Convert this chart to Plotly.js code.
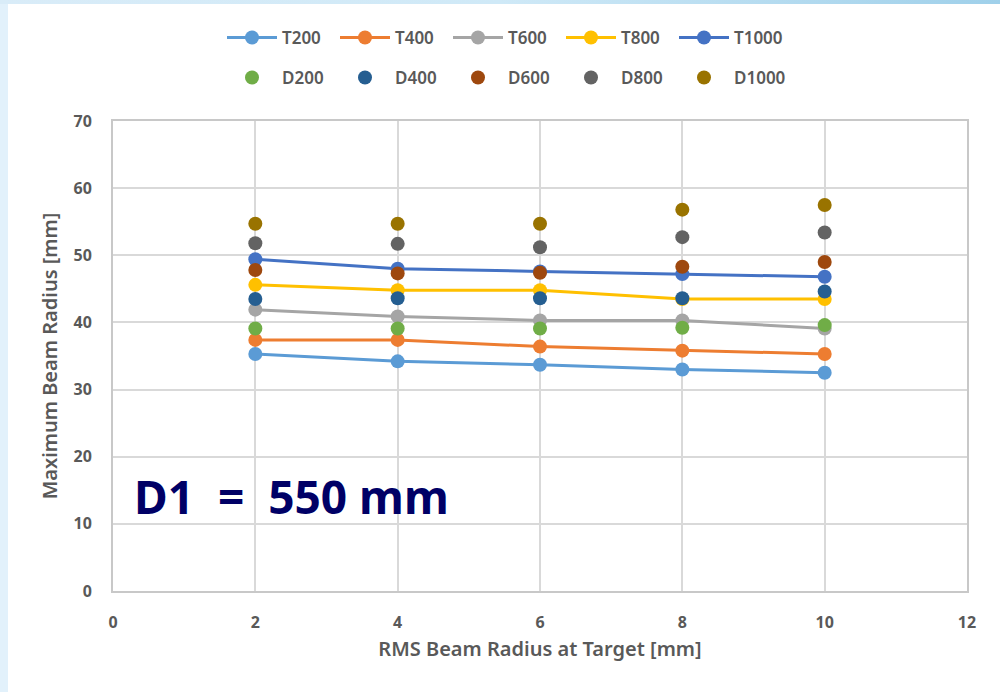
<!DOCTYPE html>
<html>
<head>
<meta charset="utf-8">
<script src="https://cdn.plot.ly/plotly-3.0.1.min.js"></script>
<style>
  html, body { margin: 0; padding: 0; width: 1000px; height: 692px; overflow: hidden; }
  #bg { position: absolute; left: 0; top: 0; width: 1000px; height: 692px;
        background: linear-gradient(90deg, #d9ecf8 0%, #cfe9f7 50%, #9fd0ea 100%); }
  #bgleft { position: absolute; left: 0; top: 4px; width: 8px; height: 688px; background: #e2f1fb; }
  #white { position: absolute; left: 8px; top: 4px; width: 992px; height: 688px; background: #ffffff; }
  #chart { position: absolute; left: 0; top: 0; width: 1000px; height: 692px; }
</style>
</head>
<body>
<div id="bg"></div>
<div id="bgleft"></div>
<div id="white"></div>
<div id="chart"></div>
<script>
// ---- data ----
const xValues = [2, 4, 6, 8, 10];

const T200  = [35.3, 34.2, 33.7, 33.0, 32.5];
const T400  = [37.4, 37.4, 36.4, 35.8, 35.3];
const T600  = [41.9, 40.9, 40.3, 40.3, 39.1];
const T800  = [45.6, 44.8, 44.8, 43.5, 43.5];
const T1000 = [49.4, 48.0, 47.6, 47.2, 46.8];

const D200  = [39.1, 39.1, 39.1, 39.2, 39.6];
const D400  = [43.5, 43.6, 43.6, 43.6, 44.6];
const D600  = [47.8, 47.3, 47.4, 48.3, 49.0];
const D800  = [51.8, 51.7, 51.2, 52.7, 53.4];
const D1000 = [54.7, 54.7, 54.7, 56.8, 57.5];

const tNames  = ['T200', 'T400', 'T600', 'T800', 'T1000'];
const tSeries = [T200, T400, T600, T800, T1000];
const tColors = ['#5b9bd5', '#ed7d31', '#a5a5a5', '#ffc000', '#4472c4'];

const dNames  = ['D200', 'D400', 'D600', 'D800', 'D1000'];
const dSeries = [D200, D400, D600, D800, D1000];
const dColors = ['#70ad47', '#255e91', '#9e480e', '#636363', '#997300'];

const xTicks = [0, 2, 4, 6, 8, 10, 12];
const yTicks = [0, 10, 20, 30, 40, 50, 60, 70];

// ---- traces ----
const traces = [];
tNames.forEach((n, i) => {
  traces.push({
    x: xValues, y: tSeries[i], name: n, type: 'scatter', mode: 'lines+markers',
    line: { color: tColors[i], width: 3 },
    marker: { color: tColors[i], size: 14 },
    legend: 'legend'
  });
});
dNames.forEach((n, i) => {
  traces.push({
    x: xValues, y: dSeries[i], name: n, type: 'scatter', mode: 'markers',
    marker: { color: dColors[i], size: 14 },
    legend: 'legend2'
  });
});

const tickFont = { family: 'Noto Sans, DejaVu Sans, sans-serif', size: 16, color: '#595959', weight: 'bold' };
const legendFont = { family: 'Noto Sans, DejaVu Sans, sans-serif', size: 17, color: '#595959', weight: 600 };
const titleFont = { family: 'Noto Sans, DejaVu Sans, sans-serif', size: 20, color: '#595959', weight: 600 };

const legendCommon = {
  orientation: 'h', xref: 'container', yref: 'container',
  xanchor: 'left', yanchor: 'middle',
  font: legendFont, bgcolor: 'rgba(0,0,0,0)',
  itemwidth: 50, entrywidth: 48, entrywidthmode: 'pixels',
  tracegroupgap: 0, itemclick: false, itemdoubleclick: false
};

const layout = {
  width: 1000, height: 692,
  paper_bgcolor: 'rgba(0,0,0,0)',
  plot_bgcolor: '#ffffff',
  margin: { l: 113, r: 33, t: 121, b: 101 },
  showlegend: true,
  legend: Object.assign({}, legendCommon, { x: 0.222, y: 1 - 38 / 692 }),
  legend2: Object.assign({}, legendCommon, { x: 0.222, y: 1 - 78 / 692 }),
  xaxis: {
    range: [0, 12], tickvals: xTicks, ticktext: xTicks.map(String),
    showgrid: true, gridcolor: '#d9d9d9', gridwidth: 2,
    zeroline: false, showline: true, linecolor: '#c8c8c8', linewidth: 2, mirror: true,
    ticks: '', ticklabelstandoff: 16, tickfont: tickFont,
    title: { text: 'RMS Beam Radius at Target [mm]', font: titleFont, standoff: 10 }
  },
  yaxis: {
    range: [0, 70], tickvals: yTicks, ticktext: yTicks.map(String),
    showgrid: true, gridcolor: '#d9d9d9', gridwidth: 2,
    zeroline: false, showline: true, linecolor: '#c8c8c8', linewidth: 2, mirror: true,
    ticks: '', ticklabelstandoff: 16, tickfont: tickFont,
    title: { text: 'Maximum Beam Radius [mm]', font: titleFont, standoff: 10 }
  },
  annotations: [{
    text: 'D1\u00a0\u00a0=\u00a0\u00a0550 mm', xref: 'paper', yref: 'paper',
    x: (291 - 113) / 854, y: (591 - 496) / 470,
    xanchor: 'center', yanchor: 'middle', showarrow: false,
    font: { family: 'Noto Sans, sans-serif', size: 46, color: '#000066', weight: 'bold' }
  }]
};

Plotly.newPlot('chart', traces, layout, { displayModeBar: false, staticPlot: true });
</script>
</body>
</html>
